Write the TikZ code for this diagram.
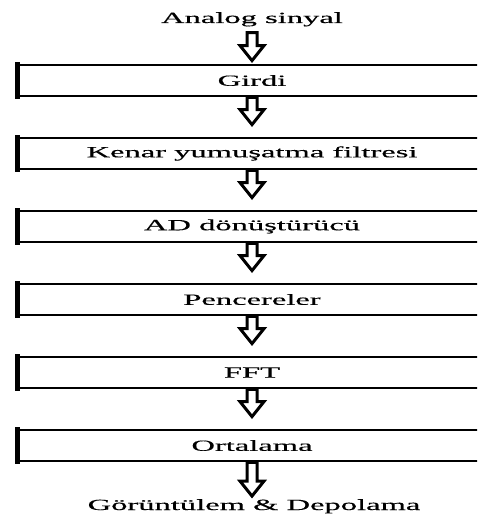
\documentclass[tikz,border=0pt]{standalone}
\usepackage{fontspec}
\setmainfont{Liberation Serif}
\newfontfamily\chartfont[FakeBold=0.3]{Liberation Serif}
\usetikzlibrary{calc, positioning}

% wide serif labels, as in the scanned chart
\newcommand{\wide}[1]{\scalebox{2.1}[1]{#1}}

\tikzset{
  stage/.style={draw, line width=2.8pt, minimum width=467pt, minimum height=31pt,
    inner sep=0pt, font=\chartfont\fontsize{15.5}{18}\selectfont},
  caption/.style={inner sep=0pt, font=\chartfont\fontsize{15.5}{18}\selectfont},
  hollow/.style={draw, fill=white, line width=3pt, line join=miter, to path={
    let \p1=(\tikztostart), \p2=(\tikztotarget) in
    (\x1-5pt,\y1) -- (\x1-5pt,\y2+15pt) -- (\x1-12pt,\y2+15pt) -- (\x1,\y2)
    -- (\x1+12pt,\y2+15pt) -- (\x1+5pt,\y2+15pt) -- (\x1+5pt,\y1) -- cycle}}
}

\begin{document}
\begin{tikzpicture}[x=1pt, y=-1pt]

  \useasboundingbox (0,0) rectangle (477,516);
  \clip (0,0) rectangle (477,516);

  % --- input and output ---
  \node[caption, anchor=base] (analog) at (252,23) {\wide{Analog sinyal}};
  \node[caption, anchor=base] (depo) at (254,510) {\wide{Görüntülem \& Depolama}};

  % --- processing stages ---
  \foreach \name/\txt [count=\i] in {girdi/Girdi, kenar/Kenar yumuşatma filtresi,
      ad/AD dönüştürücü, pencere/Pencereler, fft/FFT, ortalama/Ortalama}{
    \node[stage] (\name) at (252, 7.5+73*\i) {\wide{\txt}};
    \draw[line width=5pt, shorten <=-1.4pt, shorten >=-1.4pt]
      (\name.north west) -- (\name.south west);
  }

  % --- hollow arrows ---
  \draw[hollow] ([yshift=-6pt]analog.south) to ([yshift=3pt]girdi.north);
  \draw[hollow] (girdi.south) to ([yshift=12pt]kenar.north);
  \draw[hollow] (kenar.south) to ([yshift=12pt]ad.north);
  \draw[hollow] (ad.south) to ([yshift=12pt]pencere.north);
  \draw[hollow] (pencere.south) to ([yshift=12pt]fft.north);
  \draw[hollow] (fft.south) to ([yshift=12pt]ortalama.north);
  \draw[hollow] (ortalama.south) to ([yshift=3pt]depo.north);

\end{tikzpicture}
\end{document}
